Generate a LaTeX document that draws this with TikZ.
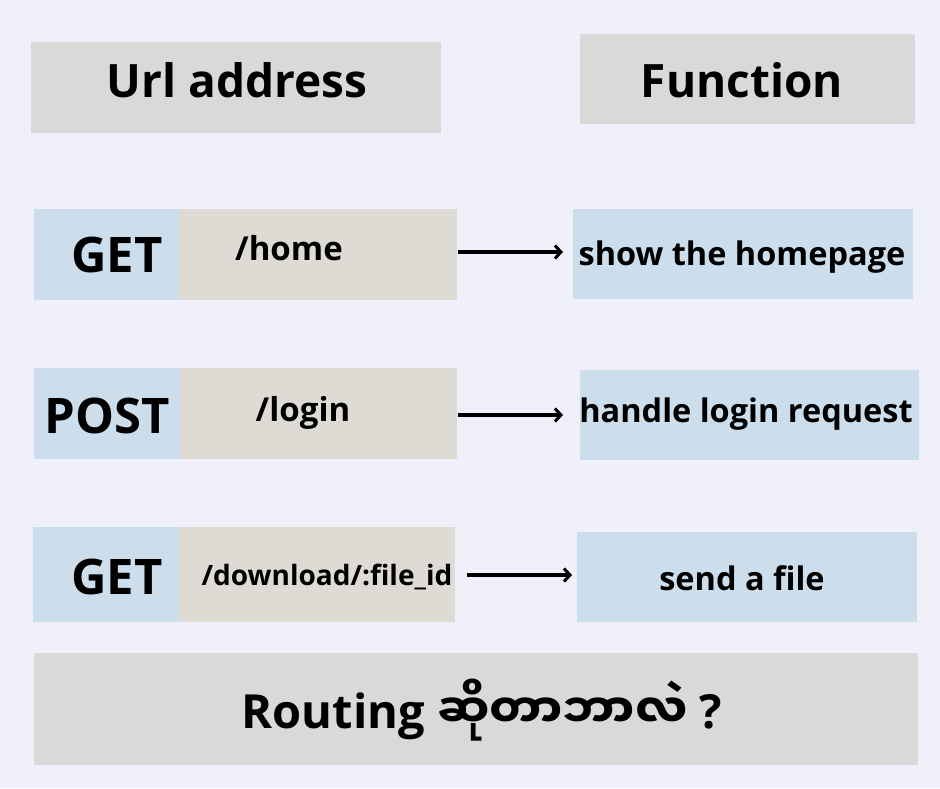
\documentclass[tikz,border=0pt]{standalone}
\usepackage{fontspec}
\setmainfont{Open Sans}
\newfontfamily\mmfont[Script=Myanmar]{Noto Sans Myanmar UI}
\usetikzlibrary{arrows.meta}
\definecolor{bgc}{HTML}{EFF0F9}
\definecolor{grayc}{HTML}{D9D9D9}
\definecolor{bluec}{HTML}{CCDEEC}
\definecolor{beigec}{HTML}{DEDBD4}
\tikzset{
  box/.style={inner sep=0pt, anchor=north west, draw=none},
  gbox/.style={box, fill=grayc},
  bbox/.style={box, fill=bluec},
  pbox/.style={box, fill=beigec},
  lbl/.style={inner sep=0pt, font=\bfseries},
  head/.style={lbl, font=\bfseries\fontsize{46}{54}\selectfont},
  meth/.style={lbl, font=\bfseries\fontsize{49}{56}\selectfont},
  path/.style={lbl, font=\bfseries\fontsize{33}{40}\selectfont},
  func/.style={lbl, font=\bfseries\fontsize{32.5}{40}\selectfont},
  arr/.style={line width=3.2pt, -{Straight Barb[length=6pt,width=13pt,line width=3pt]}},
}
\begin{document}
\begin{tikzpicture}[x=1pt,y=-1pt]
\useasboundingbox (0,0) rectangle (940,788);
\fill[bgc] (0,0) rectangle (940,788);
% headers
\node[gbox, minimum width=410, minimum height=91] (url) at (31,42) {};
\node[gbox, minimum width=335, minimum height=90] (fun) at (580,34) {};
\node[head] (turl) at (237,80) {Url address};
\node[head] (tfun) at (742,80) {Function};
% row 1
\node[bbox, minimum width=146, minimum height=91] (m1) at (34,209) {};
\node[pbox, minimum width=278, minimum height=91] (p1) at (179,209) {};
\node[bbox, minimum width=340, minimum height=90] (f1) at (573,209) {};
\node[meth] (tm1) at (117,255) {GET};
\node[path] (tp1) at (289,248) {/home};
\node[func] (tf1) at (742,257) {show the homepage};
% row 2
\node[bbox, minimum width=146, minimum height=91] (m2) at (34,368) {};
\node[pbox, minimum width=277, minimum height=91] (p2) at (180,368) {};
\node[bbox, minimum width=339, minimum height=90] (f2) at (580,370) {};
\node[meth] (tm2) at (107,416) {POST};
\node[path] (tp2) at (303,413) {/login};
\node[func] (tf2) at (746,414) {handle login request};
% row 3
\node[bbox, minimum width=145, minimum height=95] (m3) at (33,527) {};
\node[pbox, minimum width=277, minimum height=95] (p3) at (178,527) {};
\node[bbox, minimum width=340, minimum height=90] (f3) at (577,532) {};
\node[meth] (tm3) at (117,577) {GET};
\node[lbl, font=\bfseries\fontsize{28}{34}\selectfont] (tp3) at (327,577) {/download/:file\_id};
\node[func] (tf3) at (742,578) {send a file};
% arrows
\draw[arr, shorten <=1pt, shorten >=10pt] (p1.east |- 0,252) -- (f1.west |- 0,252);
\draw[arr, shorten <=1pt, shorten >=17pt] (p2.east |- 0,415) -- (f2.west |- 0,415);
\draw[arr, shorten <=12pt, shorten >=5pt] (p3.east |- 0,575) -- (f3.west |- 0,575);
% bottom
\node[gbox, minimum width=884, minimum height=112] (bot) at (34,653) {};
\node[lbl, font=\bfseries\fontsize{47}{54}\selectfont] (tbot) at (482,710) {Routing {\mmfont\bfseries ဆိုတာဘာလဲ} ?};
\end{tikzpicture}
\end{document}
